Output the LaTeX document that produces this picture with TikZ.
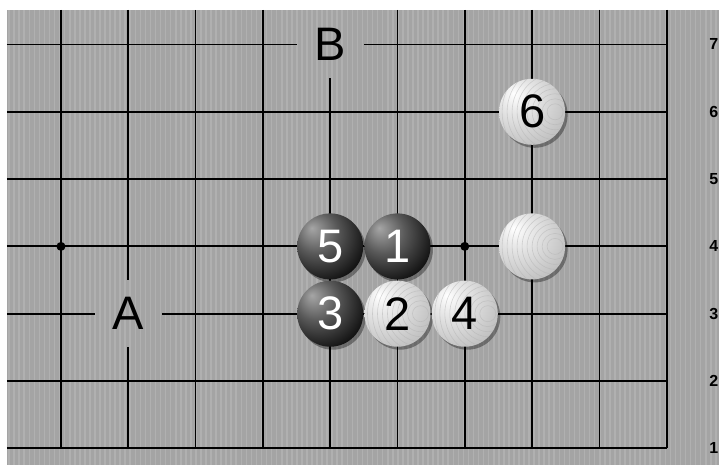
\documentclass[tikz,border=0pt]{standalone}
\usepackage{fontspec}
\newfontfamily\stonefont{Liberation Sans}
\usetikzlibrary{shadows}
\definecolor{BoardGray}{RGB}{164,164,164}
\definecolor{StripeGray}{RGB}{176,176,176}
\pgfdeclareradialshading{blackstoneshade}{\pgfpoint{-14bp}{14bp}}{color(0bp)=(black!35); color(16bp)=(black!65); color(34bp)=(black!92); color(50bp)=(black); color(60bp)=(black!82); color(70bp)=(black!68)}
\pgfdeclareradialshading{whitestoneshade}{\pgfpoint{-14bp}{14bp}}{color(0bp)=(white); color(10bp)=(black!8); color(34bp)=(black!24); color(56bp)=(black!34); color(70bp)=(black!45)}

\tikzset{
	stone/.style={circle, minimum size=66pt, inner sep=0pt,
		font=\stonefont\fontsize{47pt}{47pt}\selectfont,
		drop shadow={shadow xshift=2.5pt, shadow yshift=-3pt, opacity=0.35, fill=black}},
	blackstone/.style={stone, shading=blackstoneshade, text=white},
	whitestone/.style={stone, shading=whitestoneshade, text=black,
		path picture={
			\foreach \r in {8,13,...,73}
				\draw[black!30, opacity=0.5, line width=0.6pt]
					([xshift=-10pt]path picture bounding box.east) circle (\r pt);
		}},
	gridline/.style={line width=1.8pt, black},
	marklabel/.style={font=\stonefont\fontsize{47pt}{47pt}\selectfont, text=black},
	rownum/.style={anchor=east, inner sep=0pt, font=\stonefont\bfseries\fontsize{16pt}{16pt}\selectfont}
}

\begin{document}
\begin{tikzpicture}[x=67.3pt, y=67.3pt]
		% page and board
		\fill[white] (-0.906,0.752) rectangle (9.777,7.661);
		\useasboundingbox (-0.906,0.752) rectangle (9.777,7.661);
		\fill[BoardGray] (-0.802,0.752) rectangle (9.777,7.513);
		\foreach \x in {-0.77,-0.695,...,9.77}
			\draw[StripeGray, line width=1.6pt] (\x,0.752) -- (\x,7.513);
		% grid lines, broken at A and B
		\foreach \j in {1,2,4,5,6}
			\draw[gridline] (-0.802,\j) -- (9,\j);
		\draw[gridline] (-0.802,7) -- (3.5,7);
		\draw[gridline] (4.5,7) -- (9,7);
		\draw[gridline] (-0.802,3) -- (0.5,3);
		\draw[gridline] (1.5,3) -- (9,3);
		\foreach \i in {0,2,3,5,6,7,8,9}
			\draw[gridline] (\i,7.513) -- (\i,1);
		\draw[gridline] (4,6.5) -- (4,1);
		\draw[gridline] (1,7.513) -- (1,3.5);
		\draw[gridline] (1,2.5) -- (1,1);
		% star points
		\fill (0,4) circle (4.5pt);
		\fill (6,4) circle (4.5pt);
		% row numbers
		\foreach \j in {1,...,7}
			\node[rownum] (row\j) at (9.77,\j) {\j};
		% marks
		\node[marklabel] (markA) at (1,3) {A};
		\node[marklabel] (markB) at (4,7) {B};
		% stones
		\node[whitestone] (w6) at (7,6) {6};
		\node[whitestone] (w0) at (7,4) {};
		\node[blackstone] (b5) at (4,4) {5};
		\node[blackstone] (b1) at (5,4) {1};
		\node[blackstone] (b3) at (4,3) {3};
		\node[whitestone] (w2) at (5,3) {2};
		\node[whitestone] (w4) at (6,3) {4};
	\end{tikzpicture}
\end{document}
